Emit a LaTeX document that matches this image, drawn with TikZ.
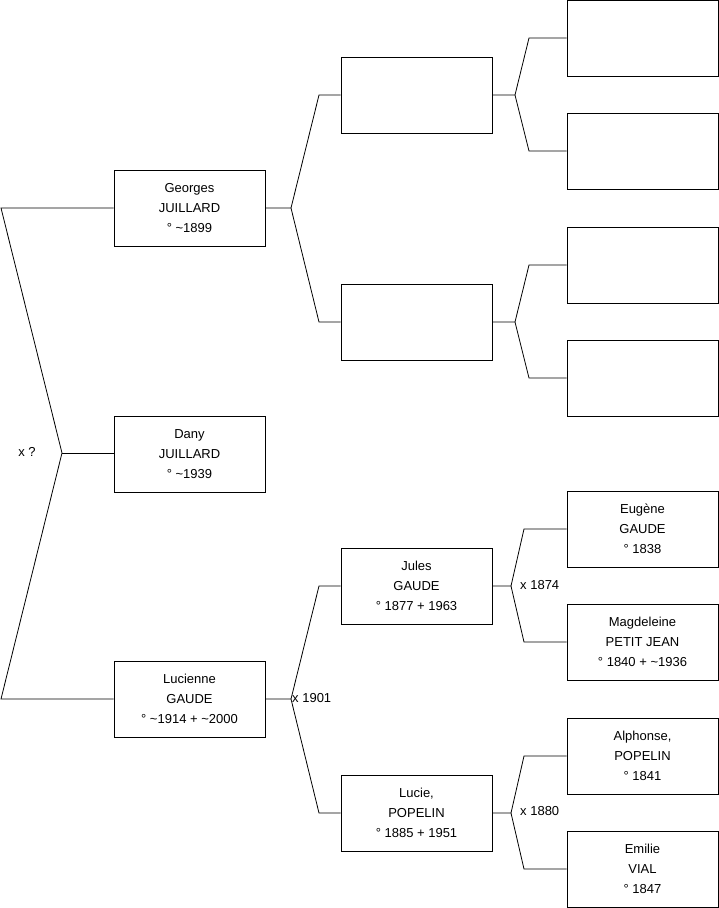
\documentclass[tikz,border=0pt]{standalone}
\usepackage{fontspec}
\setmainfont{Liberation Sans}
\begin{document}
\begin{tikzpicture}[x=1pt,y=-1pt,
  person/.style={draw=black, line width=0.8pt, minimum width=151pt, minimum height=76pt, inner sep=0pt, align=center, font=\fontsize{13}{20}\selectfont},
  link/.style={draw=black, line width=0.8pt},
  lbl/.style={font=\fontsize{13}{15}\selectfont, inner sep=0pt}]
\useasboundingbox (0,0) rectangle (719,908);
% level 1
\node[person] (G) at (189.5,208) {Georges\\JUILLARD\\° \textasciitilde1899};
\node[person] (D) at (189.5,454) {Dany\\JUILLARD\\° \textasciitilde1939};
\node[person] (L) at (189.5,699) {Lucienne\\GAUDE\\° \textasciitilde1914 + \textasciitilde2000};
% level 2
\node[person] (GF) at (416.5,95) {};
\node[person] (GM) at (416.5,322) {};
\node[person] (LF) at (416.5,586) {Jules\\GAUDE\\° 1877 + 1963};
\node[person] (LM) at (416.5,813) {Lucie,\\POPELIN\\° 1885 + 1951};
% level 3
\node[person] (A1) at (642.5,38) {};
\node[person] (A2) at (642.5,151) {};
\node[person] (A3) at (642.5,265) {};
\node[person] (A4) at (642.5,378) {};
\node[person] (A5) at (642.5,529) {Eugène\\GAUDE\\° 1838};
\node[person] (A6) at (642.5,642) {Magdeleine\\PETIT JEAN\\° 1840 + \textasciitilde1936};
\node[person] (A7) at (642.5,756) {Alphonse,\\POPELIN\\° 1841};
\node[person] (A8) at (642.5,869) {Emilie\\VIAL\\° 1847};
% left connectors
\coordinate (l1) at (1,208);
\coordinate (j0) at (62,453);
\coordinate (l3) at (1,699);
\draw[link] (G.west) -- (l1) -- (j0) -- (l3) -- (L.west);
\draw[link] (j0) -- (D.west |- j0);
\node[lbl] (x0) at (27,452) {x ?};
% Georges parents
\coordinate (jg) at (291,208);
\coordinate (jg1) at (319,95);
\coordinate (jg2) at (319,322);
\draw[link] (G.east) -- (jg) -- (jg1) -- (GF.west);
\draw[link] (jg) -- (jg2) -- (GM.west);
% Lucienne parents
\coordinate (jl) at (291,699);
\coordinate (jl1) at (319,586);
\coordinate (jl2) at (319,813);
\draw[link] (L.east) -- (jl) -- (jl1) -- (LF.west);
\draw[link] (jl) -- (jl2) -- (LM.west);
\node[lbl, anchor=west] (x1901) at (292,698) {x 1901};
% GF parents
\coordinate (ja) at (515,95);
\coordinate (ja1) at (529,38);
\coordinate (ja2) at (529,151);
\draw[link] (GF.east) -- (ja) -- (ja1) -- (A1.west);
\draw[link] (ja) -- (ja2) -- (A2.west);
% GM parents
\coordinate (jb) at (515,322);
\coordinate (jb1) at (529,265);
\coordinate (jb2) at (529,378);
\draw[link] (GM.east) -- (jb) -- (jb1) -- (A3.west);
\draw[link] (jb) -- (jb2) -- (A4.west);
% Jules parents
\coordinate (jc) at (511,586);
\coordinate (jc1) at (524,529);
\coordinate (jc2) at (524,642);
\draw[link] (LF.east) -- (jc) -- (jc1) -- (A5.west);
\draw[link] (jc) -- (jc2) -- (A6.west);
\node[lbl, anchor=west] (x1874) at (520,585) {x 1874};
% Lucie parents
\coordinate (jd) at (511,813);
\coordinate (jd1) at (524,756);
\coordinate (jd2) at (524,869);
\draw[link] (LM.east) -- (jd) -- (jd1) -- (A7.west);
\draw[link] (jd) -- (jd2) -- (A8.west);
\node[lbl, anchor=west] (x1880) at (520,811) {x 1880};
\end{tikzpicture}
\end{document}
